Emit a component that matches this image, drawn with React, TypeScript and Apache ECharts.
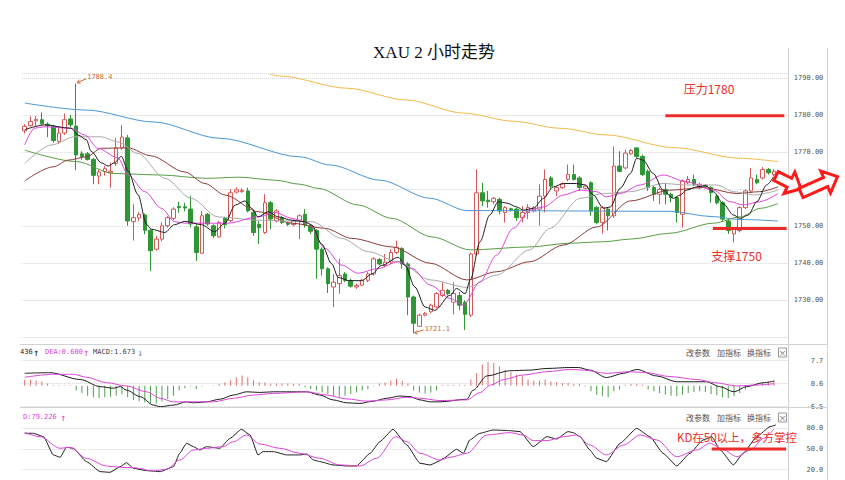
import React, { useEffect, useRef } from "react";
import * as echarts from "echarts";

// ---------------- DATA ----------------
const TITLE = "XAU 2 小时走势";
const SLOT_COUNT = 134; // 132 candles + 2 empty slots at the right
const categories = Array.from({ length: SLOT_COUNT }, (_, i) => `K${i + 1}`);

// [open, close, low, high]
const ohlc: number[][] = [
  [1775.7, 1776.9, 1775.0, 1777.5], [1777.1, 1778.2, 1776.8, 1779.6], [1778.4, 1778.8, 1776.9, 1779.7],
  [1778.7, 1777.6, 1777.3, 1780.7], [1777.5, 1777.2, 1774.0, 1778.0], [1776.9, 1773.1, 1772.5, 1777.3],
  [1772.8, 1775.1, 1772.2, 1776.9], [1775.1, 1778.7, 1774.6, 1780.4], [1778.9, 1777.3, 1776.7, 1780.0],
  [1777.0, 1769.2, 1765.1, 1788.4], [1769.5, 1768.8, 1767.9, 1770.2], [1769.5, 1768.0, 1767.7, 1770.0],
  [1768.0, 1763.7, 1761.3, 1768.4], [1763.5, 1764.6, 1761.3, 1765.3], [1764.7, 1765.5, 1763.6, 1766.2],
  [1764.4, 1764.8, 1760.4, 1767.1], [1766.9, 1771.1, 1766.2, 1773.8], [1771.1, 1774.0, 1770.6, 1777.3],
  [1773.8, 1751.4, 1750.1, 1774.6], [1751.2, 1752.3, 1746.1, 1755.9], [1752.2, 1753.2, 1751.3, 1753.8],
  [1753.0, 1748.9, 1747.8, 1753.4], [1748.9, 1743.4, 1737.9, 1749.1], [1743.8, 1746.5, 1743.4, 1747.4],
  [1746.5, 1750.1, 1745.9, 1751.0], [1750.1, 1752.3, 1749.6, 1752.7], [1752.1, 1754.6, 1751.6, 1755.1],
  [1755.3, 1755.0, 1753.6, 1756.6], [1755.2, 1754.9, 1754.0, 1756.3], [1754.6, 1750.6, 1749.7, 1758.2],
  [1749.8, 1742.9, 1740.6, 1750.5], [1742.7, 1752.8, 1742.5, 1754.1], [1753.2, 1750.6, 1750.1, 1753.6],
  [1750.1, 1747.4, 1746.8, 1750.5], [1747.1, 1751.0, 1746.9, 1751.4], [1752.1, 1750.4, 1749.4, 1752.5],
  [1751.5, 1759.0, 1751.0, 1760.0], [1759.2, 1759.8, 1758.8, 1760.5], [1759.3, 1759.6, 1759.0, 1760.2],
  [1759.5, 1754.1, 1753.7, 1760.4], [1753.7, 1748.3, 1747.4, 1754.1], [1750.5, 1749.6, 1745.2, 1751.4],
  [1748.3, 1756.3, 1747.9, 1758.6], [1756.3, 1751.9, 1749.2, 1756.8], [1751.4, 1754.1, 1751.0, 1754.6],
  [1752.3, 1751.0, 1750.6, 1752.7], [1750.8, 1750.5, 1750.0, 1751.2], [1750.4, 1751.4, 1750.0, 1751.8],
  [1751.6, 1752.8, 1746.5, 1753.2], [1753.2, 1750.3, 1749.6, 1754.6], [1750.1, 1748.6, 1747.9, 1750.5],
  [1748.8, 1743.8, 1735.8, 1749.2], [1743.8, 1738.5, 1736.7, 1744.3], [1738.5, 1734.5, 1732.0, 1738.9],
  [1733.6, 1734.9, 1728.2, 1737.1], [1734.5, 1736.7, 1731.8, 1741.2], [1737.1, 1735.4, 1734.9, 1737.6],
  [1735.3, 1733.8, 1733.4, 1735.8], [1733.6, 1734.0, 1733.1, 1734.5], [1734.1, 1735.4, 1733.8, 1735.8],
  [1735.4, 1737.1, 1734.9, 1737.6], [1737.1, 1741.2, 1736.7, 1741.6], [1741.0, 1739.8, 1739.4, 1741.4],
  [1739.4, 1740.3, 1738.9, 1742.5], [1740.3, 1742.9, 1739.8, 1743.8], [1742.9, 1744.3, 1742.5, 1746.1],
  [1744.0, 1739.8, 1738.5, 1744.3], [1739.8, 1730.9, 1726.0, 1740.3], [1730.9, 1723.8, 1721.1, 1731.3],
  [1723.0, 1726.0, 1722.9, 1726.4], [1726.0, 1726.4, 1725.7, 1726.9], [1726.9, 1728.7, 1726.5, 1729.1],
  [1728.2, 1731.8, 1727.8, 1732.2], [1731.3, 1732.7, 1730.9, 1734.9], [1732.7, 1731.8, 1731.3, 1733.1],
  [1729.5, 1731.8, 1726.2, 1734.9], [1731.3, 1728.7, 1727.3, 1732.2], [1729.5, 1726.2, 1722.0, 1730.0],
  [1726.0, 1742.5, 1725.5, 1742.9], [1742.5, 1759.0, 1742.1, 1765.3], [1759.0, 1756.8, 1755.4, 1761.7],
  [1757.0, 1756.6, 1755.0, 1759.5], [1756.6, 1757.5, 1755.9, 1757.9], [1757.2, 1754.1, 1753.2, 1757.7],
  [1753.7, 1755.0, 1751.0, 1755.4], [1754.7, 1754.4, 1753.9, 1755.0], [1754.6, 1752.3, 1751.4, 1755.0],
  [1752.3, 1753.7, 1751.0, 1755.4], [1753.7, 1755.0, 1751.9, 1755.9], [1754.1, 1755.0, 1753.7, 1755.4],
  [1754.6, 1758.1, 1750.1, 1761.3], [1758.1, 1762.6, 1753.7, 1765.3], [1763.0, 1760.8, 1759.9, 1763.5],
  [1759.5, 1760.4, 1758.1, 1760.8], [1760.4, 1761.4, 1760.0, 1761.8], [1762.6, 1763.9, 1762.1, 1766.6],
  [1763.9, 1762.6, 1762.3, 1766.6], [1763.0, 1760.4, 1759.5, 1763.5], [1760.2, 1760.8, 1759.9, 1761.2],
  [1761.7, 1754.1, 1752.8, 1762.1], [1755.0, 1751.0, 1750.5, 1755.4], [1751.0, 1755.0, 1748.0, 1755.4],
  [1754.6, 1752.8, 1748.8, 1755.0], [1752.8, 1766.2, 1752.3, 1771.5], [1766.2, 1764.8, 1764.6, 1770.2],
  [1765.7, 1769.7, 1765.3, 1770.6], [1769.5, 1770.4, 1769.3, 1770.8], [1771.1, 1768.8, 1768.4, 1771.3],
  [1768.8, 1763.9, 1763.5, 1769.3], [1764.8, 1760.4, 1759.5, 1765.3], [1760.4, 1758.6, 1756.8, 1760.8],
  [1758.6, 1759.9, 1755.9, 1760.4], [1759.9, 1758.6, 1755.9, 1761.7], [1758.6, 1757.7, 1756.4, 1759.0],
  [1757.7, 1753.7, 1751.0, 1758.1], [1753.2, 1762.1, 1749.6, 1762.6], [1761.7, 1762.6, 1761.3, 1763.5],
  [1762.6, 1761.3, 1760.8, 1763.9], [1760.4, 1761.3, 1760.0, 1761.7], [1761.0, 1760.7, 1760.4, 1761.3],
  [1760.4, 1759.0, 1756.3, 1760.8], [1758.1, 1756.3, 1755.9, 1758.6], [1756.3, 1751.9, 1751.4, 1756.8],
  [1751.4, 1748.8, 1747.9, 1751.9], [1747.9, 1749.2, 1745.6, 1749.6], [1748.8, 1755.0, 1748.3, 1755.4],
  [1755.0, 1759.5, 1754.6, 1759.9], [1759.5, 1763.0, 1759.0, 1765.7], [1762.6, 1761.7, 1761.3, 1763.9],
  [1763.0, 1765.3, 1762.6, 1765.9], [1765.3, 1764.4, 1763.9, 1765.7], [1763.9, 1764.8, 1763.5, 1765.4],
];

// moving averages: [bar index, price]
const ma5: number[][] = [
  [0, 1776.0], [3.5, 1777.3], [8.1, 1776.4], [9.3, 1774.6], [10.8, 1773.3], [11.6, 1770.2], [13.4, 1767.1],
  [14.6, 1766.2], [15.7, 1767.1], [16.9, 1768.8], [18.1, 1764.8], [19.8, 1758.5], [21.3, 1750.5], [22.1, 1749.2],
  [24.5, 1748.3], [26.2, 1750.4], [28.0, 1751.3], [30.9, 1750.4], [33.2, 1748.5], [35.0, 1750.8], [36.8, 1755.7],
  [38.5, 1756.8], [39.7, 1754.8], [40.8, 1752.5], [42.6, 1753.9], [44.3, 1752.5], [46.7, 1751.6], [49.0, 1751.2],
  [50.2, 1750.3], [51.9, 1745.2], [53.7, 1739.8], [54.8, 1736.2], [56.6, 1735.3], [58.9, 1735.3], [60.7, 1737.1],
  [62.4, 1739.4], [65.3, 1741.6], [66.5, 1739.4], [68.2, 1733.6], [70.0, 1728.2], [71.7, 1727.3], [74.4, 1731.4],
  [75.5, 1733.2], [77.0, 1731.8], [77.9, 1735.5], [79.6, 1745.8], [81.3, 1753.0], [82.8, 1756.6], [84.3, 1756.2],
  [86.0, 1755.2], [87.2, 1754.3], [88.9, 1754.8], [90.7, 1757.5], [92.4, 1760.6], [94.2, 1761.5], [96.5, 1761.5],
  [98.0, 1761.1], [99.4, 1758.4], [101.2, 1754.8], [102.4, 1755.2], [104.1, 1760.2], [105.9, 1764.2], [107.0, 1768.3],
  [108.1, 1767.8], [109.9, 1764.2], [111.6, 1759.7], [113.4, 1757.5], [114.6, 1758.4], [115.7, 1759.7], [117.5, 1760.6],
  [119.0, 1760.9], [120.4, 1759.3], [122.1, 1756.1], [123.9, 1753.0], [125.1, 1752.1], [126.5, 1753.0], [128.0, 1756.6],
  [129.7, 1761.1], [130.9, 1763.3],
];
const ma10: number[][] = [
  [0, 1771.9], [1.7, 1776.4], [3.5, 1776.8], [8.1, 1776.4], [10.5, 1774.6], [12.8, 1771.0], [16.3, 1768.4],
  [18.1, 1763.8], [21.0, 1759.3], [23.9, 1754.8], [26.2, 1751.2], [28.0, 1750.8], [35.5, 1750.8], [40.8, 1752.5],
  [43.8, 1753.7], [46.7, 1752.1], [49.6, 1750.8], [52.5, 1744.0], [55.4, 1739.5], [58.3, 1737.3], [61.8, 1738.6],
  [65.3, 1740.4], [67.7, 1738.6], [70.9, 1734.1], [74.4, 1730.5], [76.7, 1728.7], [79.6, 1735.0], [82.5, 1742.2],
  [85.4, 1749.4], [88.3, 1754.3], [90.7, 1755.2], [94.2, 1758.4], [97.1, 1759.7], [100.0, 1759.3], [101.7, 1757.9],
  [104.1, 1758.8], [107.6, 1761.1], [111.6, 1763.8], [115.7, 1762.0], [120.4, 1759.7], [123.3, 1756.6], [125.6, 1755.7],
  [128.5, 1756.6], [131.7, 1758.8],
];
const ma20: number[][] = [
  [0, 1766.9], [4.7, 1771.9], [8.7, 1774.1], [13.4, 1774.1], [16.3, 1772.7], [19.8, 1769.6], [24.5, 1762.9],
  [29.1, 1757.5], [33.8, 1752.5], [40.8, 1751.6], [45.5, 1751.4], [50.2, 1751.2], [55.4, 1746.7], [60.1, 1743.1],
  [65.3, 1740.4], [70.9, 1735.5], [77.3, 1733.5], [82.5, 1736.8], [88.3, 1743.6], [91.8, 1749.4], [97.1, 1757.5],
  [101.2, 1758.8], [105.9, 1759.3], [111.6, 1761.5], [115.7, 1761.1], [121.0, 1761.1], [123.9, 1759.3], [127.4, 1758.4],
  [131.7, 1759.7],
];
const ma30: number[][] = [
  [0, 1762.2], [5.0, 1766.0], [7.6, 1767.8], [10.8, 1768.7], [13.4, 1771.0], [18.1, 1771.1], [22.0, 1769.0],
  [28.0, 1764.6], [31.5, 1761.5], [35.0, 1758.4], [40.8, 1753.9], [46.7, 1750.8], [52.5, 1749.4], [57.2, 1746.7],
  [64.2, 1744.4], [70.9, 1740.0], [77.3, 1735.5], [82.5, 1737.7], [88.3, 1740.4], [94.2, 1744.9], [100.0, 1749.8],
  [105.9, 1756.8], [112.8, 1759.7], [118.6, 1760.4], [124.5, 1758.8], [128.5, 1759.3], [131.7, 1760.6],
];
const ma60: number[][] = [
  [0, 1770.5], [9.1, 1767.4], [15.5, 1764.2], [23.7, 1763.8], [31.8, 1762.9], [37.6, 1763.2], [43.8, 1762.4],
  [48.1, 1761.3], [51.3, 1760.2], [58.3, 1755.7], [64.2, 1752.1], [71.2, 1747.1], [77.9, 1743.6], [88.3, 1744.4],
  [95.3, 1745.4], [101.2, 1745.8], [105.9, 1746.5], [112.8, 1748.1], [120.4, 1750.8], [125.1, 1752.5], [128.6, 1754.8],
  [131.7, 1756.1],
];
const ma120: number[][] = [
  [0, 1783.2], [10.8, 1781.3], [22.5, 1778.1], [34.1, 1773.7], [48.1, 1768.7], [53.4, 1766.5], [62.1, 1762.4],
  [70.9, 1757.5], [77.3, 1754.2], [112.8, 1754.0], [120.0, 1752.6], [125.0, 1751.8], [131.7, 1751.4],
];
const ma250: number[][] = [
  [42.9, 1791.0], [44.6, 1790.5], [56.3, 1787.2], [66.8, 1784.0], [76.7, 1780.5], [85.4, 1778.3], [93.6, 1776.4],
  [101.7, 1774.6], [113.4, 1771.2], [125.1, 1768.3], [131.7, 1767.4],
];

// resistance / support levels: [bar index, price]
const resistanceLine: number[][] = [[112, 1779.8], [132.8, 1779.8]];
const supportLine: number[][] = [[120.3, 1749.4], [133.2, 1749.4]];

// MACD
const macdHist: number[] = [
  1.8, 1.8, 1.6, 1.3, 0.7, 0.2, 0.2, 0.1, 0.1, -1.5, -2.3, -3.1, -3.6, -3.8, -3.6, -3.4, -3.1, -2.6, -3.6, -4.4,
  -4.8, -5.1, -5.4, -5.6, -4.8, -4.1, -3.1, -1.5, -0.7, -0.3, -1.0, -0.2, 0, 0.1, 0.5, 1.0, 1.7, 2.6, 3.1, 2.6,
  1.7, 1.0, 1.0, 0.7, 0.7, 0.7, 0.7, 0.5, 0.5, -0.5, -1.0, -1.5, -2.1, -2.6, -3.1, -3.4, -3.1, -2.6, -2.1, -1.5,
  -1.0, -0.2, 0.7, 1.0, 1.5, 2.1, 1.5, 0.7, -1.5, -2.1, -2.4, -2.1, -1.5, 0.3, 0.3, 0.3, 0.3, 0.3, 1.9, 3.9,
  6.5, 7.3, 7.0, 6.0, 4.9, 4.2, 3.4, 2.9, 1.9, 1.5, 1.5, 1.9, 1.3, 1.1, 0.8, 0.8, 0.5, 0.5, -0.3, -1.7,
  -2.8, -3.3, -3.6, -1.7, -1.2, 0.3, 0.5, 0.5, 0.3, -1.2, -1.7, -2.3, -2.8, -3.1, -3.3, -2.8, -2.3, -2.0, -1.7, -2.0,
  -2.6, -3.0, -3.6, -3.8, -3.3, -2.3, -1.2, 0.3, 0.5, 0.8, 1.2, 1.7,
];
const dif: number[][] = [
  [0, 3.8], [4.4, 4.0], [9.7, 1.9], [13.2, -0.3], [15.5, -0.8], [16.7, -0.3], [17.8, -1.4], [20.2, -3.4],
  [22.5, -6.0], [23.7, -6.5], [26.0, -6.0], [28.3, -5.0], [29.5, -5.3], [31.8, -5.0], [34.1, -4.2], [36.5, -2.9],
  [38.8, -1.9], [41.1, -2.1], [43.5, -1.9], [45.8, -1.9], [49.3, -1.9], [51.6, -2.9], [53.9, -4.4], [56.3, -5.3],
  [58.6, -5.5], [60.9, -4.8], [63.3, -3.9], [65.6, -3.2], [67.4, -3.4], [69.1, -4.4], [70.9, -5.0], [72.6, -5.0],
  [77.3, -4.2], [78.4, -1.4], [80.8, 3.0], [84.8, 4.6], [88.3, 4.8], [91.3, 5.3], [95.3, 5.6], [96.8, 5.6],
  [98.8, 4.8], [101.7, 2.5], [104.7, 3.8], [107.0, 5.0], [110.5, 3.0], [114.0, 1.2], [116.9, 1.2], [119.2, 1.2],
  [121.5, -0.3], [124.0, -1.9], [126.2, -0.3], [129.1, 0.9], [131, 1.4],
];
const dea: number[][] = [
  [0, 2.6], [5.0, 3.5], [8.5, 3.5], [10.8, 2.6], [14.3, 0.9], [17.8, -0.1], [21.3, -1.9], [23.7, -3.9],
  [26.0, -5.0], [29.5, -5.0], [33.0, -5.0], [36.5, -3.9], [40.0, -2.9], [43.5, -2.4], [49.3, -1.9], [52.8, -2.9],
  [56.3, -4.1], [59.8, -4.8], [63.3, -4.4], [66.8, -3.6], [69.1, -3.9], [72.6, -4.6], [77.3, -4.4], [79.5, -2.2],
  [81.5, 0.2], [83.7, 1.9], [87.2, 3.3], [91.3, 4.3], [95.3, 5.0], [97.7, 4.8], [101.7, 3.8], [105.8, 4.3],
  [108.7, 4.0], [112.8, 2.8], [117.5, 1.9], [120.7, 0.9], [124.5, -0.1], [128.0, 0.2], [131, 0.6],
];

// KD
const kLine: number[][] = [
  [0, 72.8], [1.5, 72.8], [3.3, 67.9], [5.0, 41.4], [6.2, 38], [7.3, 52.5], [8.5, 51], [10.8, 31.7], [13.2, 17.2],
  [14.9, 16.2], [16.7, 24.4], [17.8, 30.2], [19.0, 22], [21.3, 18.6], [23.7, 17.2], [26.0, 24.4], [27.1, 43.8],
  [28.3, 58.3], [29.5, 53.4], [30.6, 48.6], [31.8, 53.4], [34.1, 51], [35.9, 65.5], [37.9, 78.6], [39.4, 70.3],
  [40.8, 41.4], [41.7, 46.2], [43.5, 46.2], [45.8, 41.4], [48.1, 41.4], [49.3, 42.8], [50.5, 34.1], [51.6, 31.7],
  [53.9, 26.9], [56.3, 25.4], [58.0, 25.4], [60.4, 43.8], [62.1, 60.7], [64.4, 78.6], [66.8, 55.8], [69.1, 29.3],
  [70.9, 26.9], [72.6, 33.1], [73.2, 36.5], [75.5, 49.6], [76.7, 43.8], [77.8, 63.1], [79.6, 72.8], [81.9, 77.6],
  [84.8, 76.6], [86.6, 75.2], [88.9, 53.4], [91.3, 67.9], [93.0, 64.5], [95.0, 75.2], [95.9, 73.7], [97.1, 67.9],
  [98.8, 48.6], [100.0, 36.5], [101.7, 31.7], [104.1, 58.3], [107.0, 80], [109.3, 67.9], [111.6, 43.8], [114.0, 25.4],
  [116.3, 43.8], [118.6, 63.1], [120.1, 67.9], [121.6, 48.6], [123.9, 26.9], [125.6, 43.8], [128.0, 67.9],
  [130.3, 82.4], [131.3, 84.8],
];
const dLine: number[][] = [
  [0, 73.7], [2.7, 67.9], [6.2, 51], [7.9, 52.5], [10.8, 36.5], [14.3, 25.4], [16.7, 23.5], [19.0, 23],
  [22.5, 18.2], [24.8, 20.6], [27.1, 34.1], [29.5, 48.6], [31.8, 51], [34.7, 53.4], [36.5, 60.7], [38.8, 70.3],
  [41.1, 57.3], [44.6, 51], [48.1, 43.8], [51.6, 36.5], [55.1, 26.9], [58.6, 25.4], [61.5, 36.5], [64.9, 67.9],
  [66.8, 60.7], [69.1, 43.8], [72.6, 34.1], [74.4, 38], [77.3, 43.8], [80.8, 70.3], [84.8, 73.7], [87.2, 70.3],
  [88.9, 62.1], [91.3, 62.1], [94.2, 67.9], [96.5, 70.3], [98.8, 55.8], [101.7, 41.4], [104.7, 55.8], [107.6, 70.3],
  [110.5, 63.1], [114.0, 38.9], [117.5, 48.6], [119.8, 58.3], [122.2, 48.6], [124.5, 38.9], [126.9, 48.6],
  [129.2, 65.5], [131, 79.2],
];
const kd50Line: number[][] = [[120.1, 50], [133.1, 50]];

// annotated extremes: [bar index, price]
const highMark = [9, 1788.4];
const lowMark = [68, 1721.1];

// axis settings
const MAIN_MIN = 1720, MAIN_MAX = 1791.3, MAIN_STEP = 10;
const MACD_MIN = -6.5, MACD_MAX = 7.7, MACD_STEP = 7.1;
const KD_MIN = 20, KD_MAX = 110, KD_STEP = 30;

// ---------------- LAYOUT / STYLE ----------------
const GRID_LEFT = 21.84;
const GRID_WIDTH = 766.48;
const MONO = '"DejaVu Sans Mono", "Liberation Mono", monospace';
const CJK = '"Noto Sans CJK SC", "Noto Sans", sans-serif';
const RED = "#ee2b2b";

function lineSeries(name: string, data: number[][], color: string, xi: number, yi: number, extra: any = {}) {
  return {
    type: "line", name, data, xAxisIndex: xi, yAxisIndex: yi, symbol: "none",
    smooth: 0.3, smoothMonotone: "x", silent: true,
    lineStyle: { color, width: 1 }, itemStyle: { color }, ...extra,
  };
}

function axisLabel(fmt: (v: number) => string) {
  return {
    show: true, inside: false, margin: 35, align: "right", color: "#555",
    fontSize: 7, fontFamily: MONO, formatter: fmt,
  };
}

const dotted = { show: true, lineStyle: { color: "#d6d6d6", type: "dotted", width: 1 } };

function buildOption(): any {
  const hidden = { show: false };
  return {
    animation: false,
    backgroundColor: "#ffffff",
    grid: [
      { left: GRID_LEFT, width: GRID_WIDTH, top: 73, height: 264.4 },
      { left: GRID_LEFT, width: GRID_WIDTH, top: 360.7, height: 46 },
      { left: GRID_LEFT, width: GRID_WIDTH, top: 407.6, height: 62.1 },
    ],
    xAxis: [
      { type: "category", gridIndex: 0, data: categories, boundaryGap: true, ...hidden },
      { type: "value", gridIndex: 0, min: -0.5, max: SLOT_COUNT - 0.5, ...hidden },
      { type: "category", gridIndex: 1, data: categories, boundaryGap: true, ...hidden },
      { type: "value", gridIndex: 1, min: -0.5, max: SLOT_COUNT - 0.5, ...hidden },
      { type: "value", gridIndex: 2, min: -0.5, max: SLOT_COUNT - 0.5, ...hidden },
    ],
    yAxis: [
      {
        type: "value", gridIndex: 0, position: "right", min: MAIN_MIN, max: MAIN_MAX, interval: MAIN_STEP,
        axisLine: { show: false }, axisTick: { show: false }, splitLine: dotted,
        axisLabel: axisLabel((v: number) => (Math.abs(v / 10 - Math.round(v / 10)) < 1e-6 && v > MAIN_MIN + 1 ? v.toFixed(2) : "")),
      },
      {
        type: "value", gridIndex: 1, position: "right", min: MACD_MIN, max: MACD_MAX, interval: MACD_STEP,
        axisLine: { show: false }, axisTick: { show: false }, splitLine: dotted,
        axisLabel: axisLabel((v: number) => v.toFixed(1)),
      },
      {
        type: "value", gridIndex: 2, position: "right", min: KD_MIN, max: KD_MAX, interval: KD_STEP,
        axisLine: { show: false }, axisTick: { show: false }, splitLine: dotted,
        axisLabel: axisLabel((v: number) => (v > 85 ? "" : v.toFixed(1))),
      },
    ],
    series: [
      {
        type: "candlestick", xAxisIndex: 0, yAxisIndex: 0, data: ohlc, barWidth: 4, silent: true,
        itemStyle: { color: "#ffffff", color0: "#2e9634", borderColor: "#d65757", borderColor0: "#2e9634", borderWidth: 1 },
      },
      lineSeries("MA250", ma250, "#f2b94a", 1, 0),
      lineSeries("MA120", ma120, "#4a97d4", 1, 0),
      lineSeries("MA60", ma60, "#559f45", 1, 0),
      lineSeries("MA30", ma30, "#8e3b3b", 1, 0),
      lineSeries("MA20", ma20, "#a9a9a9", 1, 0),
      lineSeries("MA10", ma10, "#dd44dd", 1, 0),
      lineSeries("MA5", ma5, "#1e1e1e", 1, 0),
      lineSeries("压力", resistanceLine, RED, 1, 0, { smooth: false, lineStyle: { color: RED, width: 3 }, z: 5 }),
      lineSeries("支撑", supportLine, RED, 1, 0, { smooth: false, lineStyle: { color: RED, width: 3 }, z: 5 }),
      {
        type: "bar", xAxisIndex: 2, yAxisIndex: 1, barWidth: 1, silent: true,
        data: macdHist.map((v) => ({ value: v, itemStyle: { color: v >= 0 ? "#dc7070" : "#4f9f4f" } })),
      },
      lineSeries("DIF", dif, "#1e1e1e", 3, 1, { clip: false }),
      lineSeries("DEA", dea, "#dd44dd", 3, 1, { clip: false }),
      lineSeries("K", kLine, "#1e1e1e", 4, 2, { clip: false, smooth: 0.15 }),
      lineSeries("D", dLine, "#dd44dd", 4, 2, { clip: false }),
      lineSeries("KD50", kd50Line, RED, 4, 2, { smooth: false, lineStyle: { color: RED, width: 3 }, z: 5 }),
    ],
  };
}

function txt(text: string, x: number, y: number, color: string, size: number, family: string, align = "left", extra: any = {}) {
  return {
    type: "text", x, y, silent: true, z: 50,
    style: {
      text, fill: color, fontSize: size, fontFamily: family,
      align, verticalAlign: "middle", textAlign: align, textVerticalAlign: "middle", ...extra,
    },
  };
}

function hline(x1: number, x2: number, y: number, color = "#d2d2d2") {
  return { type: "line", silent: true, z: 40, shape: { x1, y1: y, x2, y2: y }, style: { stroke: color, lineWidth: 1 } };
}
function vline(x: number, y1: number, y2: number, color = "#d2d2d2") {
  return { type: "line", silent: true, z: 40, shape: { x1: x, y1, x2: x, y2 }, style: { stroke: color, lineWidth: 1 } };
}

function arrow(x: number, y: number, len: number, rotation: number) {
  const h = 13;
  const pts = [[0, -5], [len - h, -5], [len - h, -12], [len, 0], [len - h, 12], [len - h, 5], [0, 5]];
  return {
    type: "polygon", x, y, rotation, silent: true, z: 60,
    shape: { points: pts },
    style: { fill: "#ffffff", stroke: "#ff1a1a", lineWidth: 3, lineJoin: "miter" },
  };
}

function menu(y: number) {
  return [
    txt("改参数", 686, y, "#555", 8, CJK),
    txt("加指标", 717, y, "#555", 8, CJK),
    txt("换指标", 747, y, "#555", 8, CJK),
    { type: "rect", silent: true, z: 50, shape: { x: 778.5, y: y - 4.5, width: 8, height: 9 }, style: { fill: "#fff", stroke: "#999", lineWidth: 1 } },
    txt("×", 782.5, y, "#666", 8, CJK, "center"),
  ];
}

export default function App() {
  const ref = useRef<HTMLDivElement>(null);

  useEffect(() => {
    if (!ref.current) return;
    const chart = echarts.init(ref.current, null, { renderer: "svg" });
    chart.setOption(buildOption());

    const hi = chart.convertToPixel({ seriesIndex: 0 }, highMark) as number[];
    const lo = chart.convertToPixel({ seriesIndex: 0 }, lowMark) as number[];
    const ORANGE = "#cc6a2e";

    const graphics: any[] = [
      txt(TITLE, 434, 52, "#111", 17, '"Liberation Serif", "DejaVu Serif", "Noto Sans CJK SC", serif', "center"),
      // panel frames
      hline(20, 828, 344.5),
      hline(20, 828, 407.5),
      vline(788.5, 48, 480),
      vline(827.5, 48, 480),
      // MACD legend
      txt("436", 20, 352, "#222", 7, MONO),
      txt("↑", 33, 352, "#222", 10, MONO),
      txt("DEA:0.600", 45, 352, "#dd44dd", 7, MONO),
      txt("↑", 83, 352, "#dd44dd", 10, MONO),
      txt("MACD:1.673", 93, 352, "#444", 7, MONO),
      txt("↓", 137, 352, "#888", 10, MONO),
      ...menu(352.5),
      // KD legend
      txt("D:79.226", 23, 417, "#dd44dd", 7, MONO),
      txt("↑", 60, 417, "#dd44dd", 10, MONO),
      ...menu(417.5),
      // annotations
      txt("压力1780", 709, 88.5, RED, 12, CJK, "center"),
      txt("支撑1750", 736.5, 255, RED, 12, CJK, "center"),
      txt("KD在50以上，多方掌控", 677, 436.5, RED, 11.5, CJK),
      // extremes
      { type: "polyline", silent: true, z: 50, shape: { points: [[hi[0] + 10, hi[1] - 5], [hi[0] + 1, hi[1] - 1]] }, style: { stroke: ORANGE, lineWidth: 1, fill: "none" } },
      { type: "polyline", silent: true, z: 50, shape: { points: [[hi[0] + 3, hi[1] - 4], [hi[0] + 1, hi[1] - 1], [hi[0] + 4.5, hi[1] - 0.5]] }, style: { stroke: ORANGE, lineWidth: 1, fill: "none" } },
      txt(String(highMark[1].toFixed(1)), hi[0] + 11, hi[1] - 6.5, ORANGE, 7, MONO),
      { type: "polyline", silent: true, z: 50, shape: { points: [[lo[0] + 10, lo[1] - 3.5], [lo[0] + 1, lo[1] - 0.5]] }, style: { stroke: ORANGE, lineWidth: 1, fill: "none" } },
      { type: "polyline", silent: true, z: 50, shape: { points: [[lo[0] + 3.5, lo[1] - 3], [lo[0] + 1, lo[1] - 0.5], [lo[0] + 4, lo[1] + 1]] }, style: { stroke: ORANGE, lineWidth: 1, fill: "none" } },
      txt(String(lowMark[1].toFixed(1)), lo[0] + 11, lo[1] - 4, ORANGE, 7, MONO),
      // big hollow arrows
      arrow(776, 176, 28, -0.47),
      arrow(801, 193, 40, 0.42),
    ];
    chart.setOption({ graphic: graphics });

    return () => chart.dispose();
  }, []);

  return (
    <div
      ref={ref}
      style={{ position: "absolute", left: 0, top: 0, width: 845, height: 480, background: "#ffffff" }}
    />
  );
}
